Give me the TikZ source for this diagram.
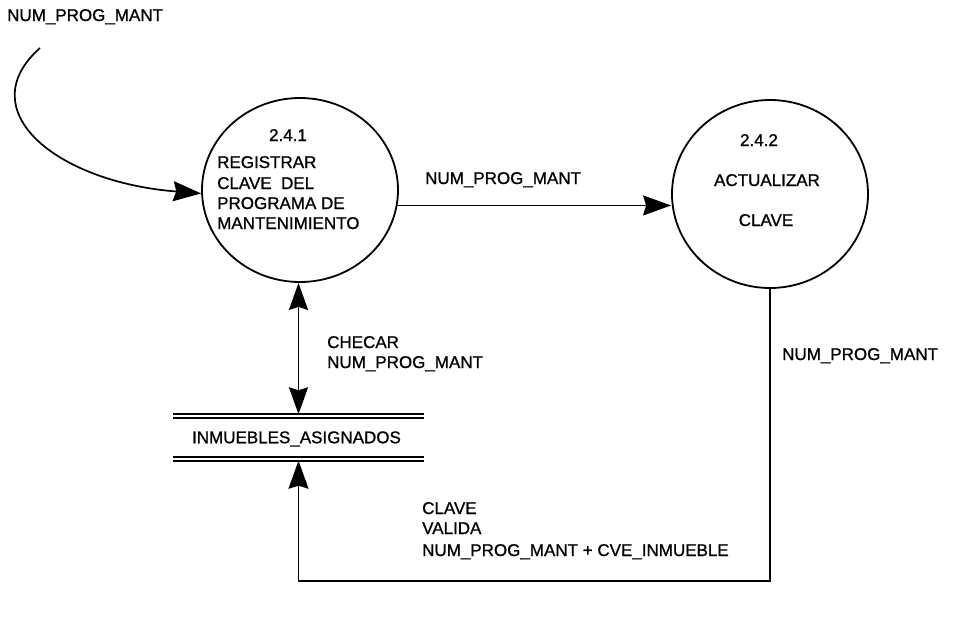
\documentclass[tikz,border=0pt]{standalone}
\usepackage{fontspec}
\setmainfont{Liberation Sans}
\newfontfamily\scanfont{Liberation Sans}[FakeBold=1]
\usetikzlibrary{arrows.meta,calc,shapes.geometric}
\begin{document}
\begin{tikzpicture}[x=1pt,y=-1pt,
  flow/.style={line width=1.7pt, -{Stealth[length=28pt,width=20pt,inset=3pt]}},
  biflow/.style={line width=1.7pt, {Stealth[length=27pt,width=19pt,inset=3pt]}-{Stealth[length=27pt,width=19pt,inset=3pt]}},
  proc/.style={ellipse, draw, line width=1.8pt, inner sep=0pt},
  txt/.style={font=\scanfont\fontsize{17}{20}\selectfont, inner sep=0pt},
  storeline/.style={line width=1.9pt},
]
\useasboundingbox (0,0) rectangle (954,622);

% processes
\node[proc, minimum width=196pt, minimum height=184pt] (p1) at (300,190) {};
\node[proc, minimum width=196pt, minimum height=188pt] (p2) at (770,194) {};

% process texts
\node[txt, anchor=base] (p1num) at (288,141) {2.4.1};
\node[txt, anchor=base west] (p1a) at (217,168) {REGISTRAR};
\node[txt, anchor=base west] (p1b) at (217,189) {CLAVE\ \ DEL};
\node[txt, anchor=base west] (p1c) at (217,209) {PROGRAMA DE};
\node[txt, anchor=base west] (p1d) at (217,229) {MANTENIMIENTO};

\node[txt, anchor=base] (p2num) at (759,146) {2.4.2};
\node[txt, anchor=base] (p2a) at (767,186) {ACTUALIZAR};
\node[txt, anchor=base] (p2b) at (766,226) {CLAVE};

% data store
\node[minimum width=251pt, minimum height=46pt, inner sep=0pt] (ds) at (298.5,437.5) {};
\node[txt] (dslabel) at (296.5,439) {INMUEBLES\_ASIGNADOS};
\draw[storeline] (ds.north west) -- (ds.north east);
\draw[storeline] ($(ds.north west)+(0,4)$) -- ($(ds.north east)+(0,4)$);
\draw[storeline] (ds.south west) -- (ds.south east);
\draw[storeline] ($(ds.south west)+(0,-4)$) -- ($(ds.south east)+(0,-4)$);

% external input
\coordinate (src) at (40,48);
\node[txt, anchor=base west] (srclabel) at (7,21) {NUM\_PROG\_MANT};
\draw[flow] (src) .. controls (-30,110) and (55,182) .. (p1.182);

% p1 -> p2
\draw[flow] (p1.-9) -- (p1.-9 -| p2.west);
\node[txt, anchor=base west] (l12) at (425,184) {NUM\_PROG\_MANT};

% p1 <-> store
\draw[biflow] (p1.south -| ds.north) -- (ds.north);
\node[txt, anchor=base west] (lchk1) at (327,348) {CHECAR};
\node[txt, anchor=base west] (lchk2) at (327,368) {NUM\_PROG\_MANT};

% p2 -> store
\coordinate (bot) at (0,581);
\draw[flow] (p2.south) -- (p2.south |- bot) -- (ds.south |- bot) -- (ds.south);
\node[txt, anchor=base west] (lright) at (782,360) {NUM\_PROG\_MANT};
\node[txt, anchor=base west] (lcv1) at (422,514) {CLAVE};
\node[txt, anchor=base west] (lcv2) at (422,534) {VALIDA};
\node[txt, anchor=base west] (lcv3) at (422,556) {NUM\_PROG\_MANT + CVE\_INMUEBLE};
\end{tikzpicture}
\end{document}
